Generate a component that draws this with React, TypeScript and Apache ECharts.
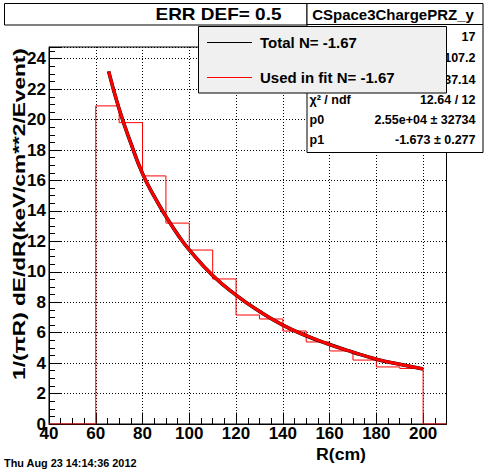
import React, { useEffect, useRef } from "react";
import * as echarts from "echarts";

// ---- data ----
const binLowEdges = [60, 70, 80, 90, 100, 110, 120, 130, 140, 150, 160, 170, 180, 190];
const binWidth = 10;
const binContents = [20.9, 19.8, 16.3, 13.2, 11.43, 9.53, 7.16, 6.9, 6.11, 5.39, 4.8, 4.2, 3.75, 3.65];
const fitR = [65.5, 70, 75, 80, 85, 90, 95, 100, 110, 120, 130, 140, 150, 160, 170, 180, 190, 200];
const fitValues = [23.17, 20.7, 18.45, 16.45, 14.95, 13.64, 12.46, 11.44, 9.76, 8.47, 7.4, 6.5, 5.8, 5.22, 4.72, 4.26, 3.92, 3.62];
const xMin = 40;
const xMax = 210;
const yMin = 0;
const yMax = 24.77;
const title = "ERR DEF= 0.5";
const statsTitle = "CSpace3ChargePRZ_y";
// labels of the first three rows are hidden behind the legend in the reference
const statsLabels = ["", "", "", "χ² / ndf", "p0", "p1"];
const statsValues = ["17", "107.2", "37.14", "12.64 / 12", "2.55e+04 ± 32734", "-1.673 ± 0.277"];
const legendLabels = ["Total N= -1.67", "Used in fit N= -1.67"];
const legendColors = ["#000000", "#ff0000"];
const yTitle = "1/(πR) dE/dR(keV/cm**2/Event)";
const xTitle = "R(cm)";
const dateText = "Thu Aug 23 14:14:36 2012";

const FF = '"Liberation Sans", Arial, Helvetica, sans-serif';

function fitScale(text: string, font: string, target: number): number {
  try {
    const c = document.createElement("canvas").getContext("2d");
    if (!c) return 1;
    c.font = font;
    const w = c.measureText(text).width;
    return w > 0 ? target / w : 1;
  } catch (e) {
    return 1;
  }
}

export default function App() {
  const ref = useRef<HTMLDivElement>(null);
  useEffect(() => {
    if (!ref.current) return;
    const chart = echarts.init(ref.current, undefined, { renderer: "svg" });

    const histData: number[][] = [[xMin, 0]];
    binLowEdges.forEach((e, i) => histData.push([e, binContents[i]]));
    histData.push([binLowEdges[binLowEdges.length - 1] + binWidth, 0]);
    histData.push([xMax, 0]);
    const fitData = fitR.map((r, i) => [r, fitValues[i]]);

    const titleFont = `bold 16px ${FF}`;
    const yTitleFont = `bold 17px ${FF}`;
    const xTitleFont = `bold 16px ${FF}`;
    const dateFont = `bold 10px ${FF}`;
    const statsFont = `bold 12.5px ${FF}`;

    const statsRowsY = [36.5, 58, 79.5, 99.5, 119.5, 139.5];
    const statsTexts: any[] = [];
    statsLabels.forEach((l, i) => {
      if (l) {
        statsTexts.push({
          type: "text", x: 309.5, y: statsRowsY[i], z: 101,
          style: { text: l, font: statsFont, fill: "#000", align: "left", verticalAlign: "middle" },
        });
      }
      statsTexts.push({
        type: "text", x: 475.5, y: statsRowsY[i], z: 101,
        style: { text: statsValues[i], font: statsFont, fill: "#000", align: "right", verticalAlign: "middle" },
      });
    });

    const legendY = [42, 77];
    const legendEls: any[] = [
      {
        type: "rect", z: 110,
        shape: { x: 198.5, y: 26.5, width: 248, height: 66.5 },
        style: { fill: "#f0f0f0", stroke: "#000", lineWidth: 1 },
      },
    ];
    legendLabels.forEach((l, i) => {
      legendEls.push({
        type: "line", z: 111,
        shape: { x1: 207, y1: legendY[i] + 0.5, x2: 252, y2: legendY[i] + 0.5 },
        style: { stroke: legendColors[i], lineWidth: 1 },
      });
      legendEls.push({
        type: "text", x: 260, y: legendY[i], z: 111,
        style: { text: l, font: `bold 15px ${FF}`, fill: "#000", align: "left", verticalAlign: "middle" },
      });
    });

    const axisLabelStyle = {
      color: "#000",
      fontFamily: FF,
      fontWeight: "bold" as const,
      fontSize: 17,
    };

    const option: any = {
      animation: false,
      backgroundColor: "#ffffff",
      grid: {
        left: 49, right: 49.5, top: 47, bottom: 48,
        show: true, borderColor: "#000", borderWidth: 1, backgroundColor: "transparent",
        outerBoundsMode: "none",
      },
      xAxis: [
        {
          type: "value", min: xMin, max: xMax, interval: 20, position: "bottom",
          axisLine: { show: true, lineStyle: { color: "#000", width: 1 } },
          axisTick: { show: true, inside: true, length: 11.5, lineStyle: { color: "#000" } },
          axisLabel: { ...axisLabelStyle, margin: 1, formatter: (v: number) => (v > 200.5 ? "" : String(v)) },
          splitLine: { show: true, lineStyle: { color: "#000", width: 1, type: [1, 2] } },
        },
        {
          type: "value", min: xMin, max: xMax, interval: 5, position: "bottom",
          axisLine: { show: false },
          axisTick: { show: true, inside: true, length: 6, lineStyle: { color: "#000" } },
          axisLabel: { show: false },
          splitLine: { show: false },
        },
      ],
      yAxis: [
        {
          type: "value", min: yMin, max: yMax, interval: 2, position: "left",
          axisLine: { show: true, lineStyle: { color: "#000", width: 1 } },
          axisTick: { show: true, inside: true, length: 12, lineStyle: { color: "#000" } },
          axisLabel: { ...axisLabelStyle, margin: 3, formatter: (v: number) => (v > 24.01 ? "" : String(v)) },
          splitLine: { show: true, lineStyle: { color: "#000", width: 1, type: [1, 2] } },
        },
        {
          type: "value", min: yMin, max: yMax, interval: 0.5, position: "left",
          axisLine: { show: false },
          axisTick: { show: true, inside: true, length: 6, lineStyle: { color: "#000" } },
          axisLabel: { show: false },
          splitLine: { show: false },
        },
      ],
      series: [
        {
          type: "line", name: "hist", step: "end", data: histData,
          xAxisIndex: 0, yAxisIndex: 0, showSymbol: false, symbol: "none",
          lineStyle: { color: "#ff0000", width: 1 }, z: 3, silent: true,
        },
        {
          type: "line", name: "Total", data: fitData, smooth: true,
          xAxisIndex: 0, yAxisIndex: 0, showSymbol: false, symbol: "none",
          lineStyle: { color: "#000000", width: 3.6 }, z: 4, silent: true,
        },
        {
          type: "line", name: "Used in fit", data: fitData, smooth: true,
          xAxisIndex: 0, yAxisIndex: 0, showSymbol: false, symbol: "none",
          lineStyle: { color: "#ff0000", width: 3 }, z: 5, silent: true,
        },
      ],
      graphic: {
        elements: [
          // title box
          {
            type: "rect", z: 100,
            shape: { x: 4.5, y: 3.5, width: 302.5, height: 21.5 },
            style: { fill: "#fff", stroke: "#000", lineWidth: 1 },
          },
          {
            type: "text", x: 218.5, y: 15, z: 101,
            scaleX: fitScale(title, titleFont, 126),
            style: { text: title, font: titleFont, fill: "#000", align: "center", verticalAlign: "middle" },
          },
          // stats box
          {
            type: "rect", z: 100,
            shape: { x: 307, y: 3.5, width: 176, height: 149 },
            style: { fill: "#fff", stroke: "#000", lineWidth: 1 },
          },
          {
            type: "line", z: 101,
            shape: { x1: 307, y1: 24.5, x2: 483, y2: 24.5 },
            style: { stroke: "#000", lineWidth: 1 },
          },
          {
            type: "text", x: 393, y: 14.5, z: 101,
            style: { text: statsTitle, font: `bold 15px ${FF}`, fill: "#000", align: "center", verticalAlign: "middle" },
          },
          ...statsTexts,
          ...legendEls,
          // axis titles
          {
            type: "text", x: 19, y: 214, z: 101, rotation: Math.PI / 2,
            scaleX: fitScale(yTitle, yTitleFont, 332),
            style: { text: yTitle, font: yTitleFont, fill: "#000", align: "center", verticalAlign: "middle" },
          },
          {
            type: "text", x: 366, y: 455, z: 101,
            scaleX: fitScale(xTitle, xTitleFont, 50),
            style: { text: xTitle, font: xTitleFont, fill: "#000", align: "right", verticalAlign: "middle" },
          },
          {
            type: "text", x: 4, y: 463.5, z: 101,
            scaleX: fitScale(dateText, dateFont, 133),
            style: { text: dateText, font: dateFont, fill: "#000", align: "left", verticalAlign: "middle" },
          },
        ],
      },
    };
    chart.setOption(option);
    return () => chart.dispose();
  }, []);
  return (
    <div
      ref={ref}
      style={{ position: "fixed", left: 0, top: 0, width: 496, height: 472, background: "#fff" }}
    />
  );
}
